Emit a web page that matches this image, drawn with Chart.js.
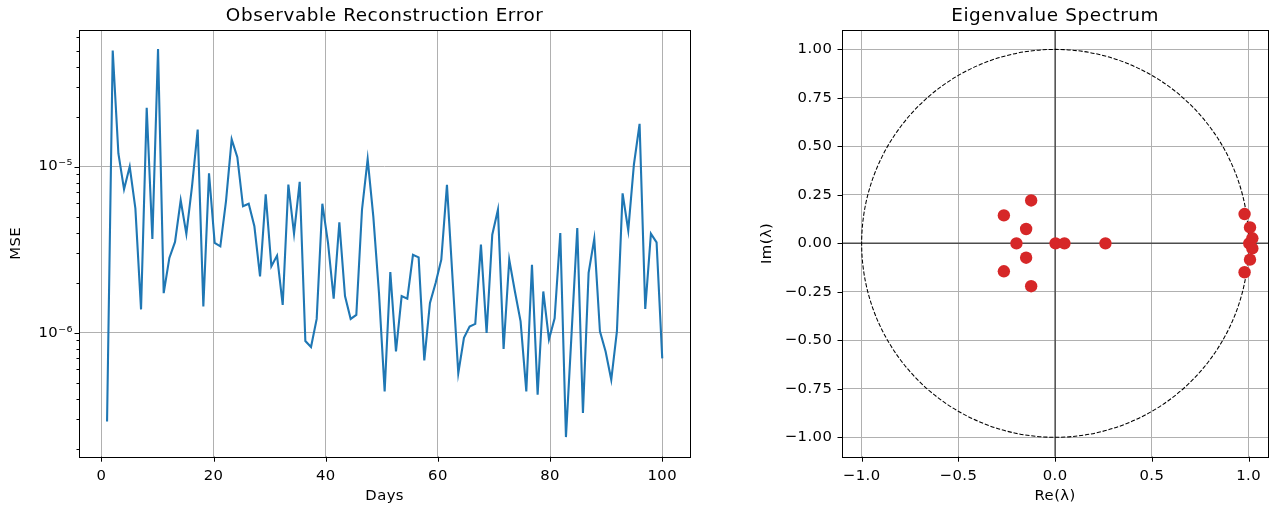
<!DOCTYPE html>
<html>
<head>
<meta charset="utf-8">
<script src="https://cdn.jsdelivr.net/npm/chart.js@4.4.0/dist/chart.umd.min.js"></script>
<style>
  body { margin: 0; background: #fff; width: 1276px; height: 510px; overflow: hidden; position: relative; }
  canvas { position: absolute; top: 0; }
  #errChart { left: 0; }
  #eigChart { left: 750px; }
</style>
</head>
<body>
<canvas id="errChart" width="700" height="510"></canvas>
<canvas id="eigChart" width="526" height="510"></canvas>
<script>
// Left panel: reconstruction error per day
const days = [
  1.00, 2.01, 3.02, 4.03, 5.04, 6.05, 7.06, 8.07, 9.08, 10.09,
  11.10, 12.11, 13.12, 14.13, 15.14, 16.15, 17.16, 18.17, 19.18, 20.19,
  21.20, 22.21, 23.22, 24.23, 25.24, 26.26, 27.27, 28.28, 29.29, 30.30,
  31.31, 32.32, 33.33, 34.34, 35.35, 36.36, 37.37, 38.38, 39.39, 40.40,
  41.41, 42.42, 43.43, 44.44, 45.45, 46.46, 47.47, 48.48, 49.49, 50.50,
  51.51, 52.52, 53.53, 54.54, 55.55, 56.56, 57.57, 58.58, 59.59, 60.60,
  61.61, 62.62, 63.63, 64.64, 65.65, 66.66, 67.67, 68.68, 69.69, 70.70,
  71.71, 72.72, 73.73, 74.74, 75.76, 76.77, 77.78, 78.79, 79.80, 80.81,
  81.82, 82.83, 83.84, 84.85, 85.86, 86.87, 87.88, 88.89, 89.90, 90.91,
  91.92, 92.93, 93.94, 94.95, 95.96, 96.97, 97.98, 98.99, 100.00
];
const mseValues = [
  2.92e-7, 5.0e-5, 1.2e-5, 7.3e-6, 1.0e-5, 5.6e-6, 1.38e-6, 2.26e-5, 3.67e-6, 5.1e-5,
  1.73e-6, 2.82e-6, 3.52e-6, 6.27e-6, 3.93e-6, 7.6e-6, 1.67e-5, 1.44e-6, 9.1e-6, 3.47e-6,
  3.31e-6, 6.2e-6, 1.46e-5, 1.14e-5, 5.77e-6, 5.98e-6, 4.37e-6, 2.18e-6, 6.8e-6, 2.51e-6,
  2.91e-6, 1.47e-6, 7.8e-6, 3.95e-6, 8.1e-6, 8.9e-7, 8.2e-7, 1.21e-6, 5.98e-6, 3.47e-6,
  1.6e-6, 4.62e-6, 1.66e-6, 1.21e-6, 1.28e-6, 5.5e-6, 1.11e-5, 5.0e-6, 1.73e-6, 4.43e-7,
  2.32e-6, 7.7e-7, 1.66e-6, 1.6e-6, 2.94e-6, 2.84e-6, 6.8e-7, 1.51e-6, 1.99e-6, 2.75e-6,
  7.76e-6, 2.09e-6, 5.7e-7, 9.3e-7, 1.09e-6, 1.13e-6, 3.39e-6, 9.95e-7, 3.89e-6, 5.5e-6,
  7.98e-7, 2.75e-6, 1.77e-6, 1.17e-6, 4.43e-7, 2.56e-6, 4.23e-7, 1.77e-6, 9.1e-7, 1.22e-6,
  3.98e-6, 2.35e-7, 1.0e-6, 4.27e-6, 3.28e-7, 2.29e-6, 3.67e-6, 1.02e-6, 7.7e-7, 5.2e-7,
  1.02e-6, 6.9e-6, 4.13e-6, 1.03e-5, 1.81e-5, 1.39e-6, 3.95e-6, 3.5e-6, 7.0e-7
];
const dayTicks = [0, 20, 40, 60, 80, 100];
const mseMajorTicks = [1e-6, 1e-5];
const mseMinorTicks = [
  2e-7, 3e-7, 4e-7, 5e-7, 6e-7, 7e-7, 8e-7, 9e-7,
  2e-6, 3e-6, 4e-6, 5e-6, 6e-6, 7e-6, 8e-6, 9e-6,
  2e-5, 3e-5, 4e-5, 5e-5, 6e-5
];
const mseTickLabels = ['10\u207B\u2076', '10\u207B\u2075'];

// Right panel: eigenvalues
const eigRe = [-0.124, -0.265, -0.150, -0.200, -0.150, -0.265, -0.124, 0.002, 0.048, 0.260,
               0.979, 1.007, 1.019, 1.003, 1.019, 1.007, 0.979];
const eigIm = [0.221, 0.144, 0.074, 0.000, -0.074, -0.144, -0.221, 0.000, 0.000, 0.000,
               0.151, 0.082, 0.026, 0.000, -0.026, -0.084, -0.149];
const reTicks = [-1.0, -0.5, 0.0, 0.5, 1.0];
const imTicks = [-1.0, -0.75, -0.5, -0.25, 0.0, 0.25, 0.5, 0.75, 1.0];

Chart.defaults.font.family = '"DejaVu Sans", sans-serif';
Chart.defaults.font.size = 14.8;
Chart.defaults.color = '#000';

const GRID = '#b0b0b0';
const isMajor = v => mseMajorTicks.some(m => Math.abs(m - v) / m < 1e-6);
const fmtMinus = (v, d) => (v < 0 ? '\u2212' : '') + Math.abs(v).toFixed(d);

// matplotlib text is a little wider than canvas text
const spacing = {
  id: 'spacing',
  beforeUpdate(chart) { chart.ctx.letterSpacing = '0.45px'; },
  beforeLayout(chart) { chart.ctx.letterSpacing = '0.45px'; },
  beforeDraw(chart) { chart.ctx.letterSpacing = '0.45px'; }
};

// title, spines and outward tick marks
const frame = {
  id: 'frame',
  afterDraw(chart, args, opts) {
    const { ctx, chartArea: a } = chart;
    ctx.save();
    ctx.strokeStyle = '#000';
    ctx.lineWidth = 1;
    ctx.beginPath();
    const xs = chart.scales.x, ys = chart.scales.y;
    xs.ticks.forEach(t => {
      const px = Math.round(xs.getPixelForValue(t.value)) + 0.5;
      ctx.moveTo(px, a.bottom);
      ctx.lineTo(px, a.bottom + 5);
    });
    ys.ticks.forEach(t => {
      const py = Math.round(ys.getPixelForValue(t.value)) + 0.5;
      const len = opts.minorY && !isMajor(t.value) ? 2.8 : 4.8;
      ctx.moveTo(a.left, py);
      ctx.lineTo(a.left - len, py);
    });
    ctx.stroke();
    ctx.strokeRect(Math.round(a.left) + 0.5, Math.round(a.top) + 0.5,
                   Math.round(a.right - a.left), Math.round(a.bottom - a.top));
    ctx.fillStyle = '#000';
    ctx.font = '18.4px "DejaVu Sans"';
    ctx.letterSpacing = '0.6px';
    ctx.textAlign = 'center';
    ctx.textBaseline = 'alphabetic';
    ctx.fillText(opts.title, (a.left + a.right) / 2, 20.8);
    ctx.restore();
  }
};

// unit circle and zero axes under the eigenvalue points
const unitCircle = {
  id: 'unitCircle',
  beforeDatasetsDraw(chart) {
    const { ctx, chartArea: a } = chart;
    const xs = chart.scales.x, ys = chart.scales.y;
    const cx = xs.getPixelForValue(0), cy = ys.getPixelForValue(0);
    ctx.save();
    ctx.beginPath();
    ctx.rect(a.left, a.top, a.right - a.left, a.bottom - a.top);
    ctx.clip();
    ctx.strokeStyle = '#4d4d4d';
    ctx.lineWidth = 1.5;
    ctx.beginPath();
    ctx.moveTo(a.left, cy); ctx.lineTo(a.right, cy);
    ctx.moveTo(cx, a.top); ctx.lineTo(cx, a.bottom);
    ctx.stroke();
    ctx.strokeStyle = '#000';
    ctx.lineWidth = 1.05;
    ctx.setLineDash([4.2, 1.8]);
    ctx.beginPath();
    ctx.ellipse(cx, cy, xs.getPixelForValue(1) - cx, cy - ys.getPixelForValue(1), 0, 0, Math.PI * 2);
    ctx.stroke();
    ctx.restore();
  }
};

new Chart(document.getElementById('errChart'), {
  type: 'line',
  data: {
    datasets: [{
      data: days.map((d, i) => ({ x: d, y: mseValues[i] })),
      borderColor: '#1f77b4',
      borderWidth: 2.1,
      pointRadius: 0,
      tension: 0,
      fill: false
    }]
  },
  options: {
    responsive: false,
    animation: false,
    layout: { padding: { top: 30, right: 10, left: 0, bottom: 0 } },
    plugins: {
      legend: { display: false },
      tooltip: { enabled: false },
      frame: { title: 'Observable Reconstruction Error', minorY: true }
    },
    scales: {
      x: {
        type: 'linear',
        min: -3.95,
        max: 104.95,
        afterBuildTicks: s => { s.ticks = dayTicks.map(v => ({ value: v })); },
        afterFit: s => { s.height = 53.3; },
        ticks: { padding: 10.5, autoSkip: false, maxRotation: 0, callback: v => String(v) },
        grid: { color: GRID, lineWidth: 1, drawTicks: false },
        border: { display: false },
        title: { display: true, text: 'Days', padding: { top: 0, bottom: 4.8 } }
      },
      y: {
        type: 'logarithmic',
        min: 1.79e-7,
        max: 6.65e-5,
        afterBuildTicks: s => {
          s.ticks = mseMinorTicks.concat(mseMajorTicks).sort((a, b) => a - b).map(v => ({ value: v }));
        },
        afterFit: s => { s.width = 79.3; },
        ticks: {
          padding: 6.5,
          autoSkip: false,
          callback: v => {
            const k = mseMajorTicks.findIndex(m => Math.abs(m - v) / m < 1e-6);
            return k >= 0 ? mseTickLabels[k] : '';
          }
        },
        grid: {
          lineWidth: 1,
          drawTicks: false,
          color: c => (c.tick && isMajor(c.tick.value)) ? GRID : 'rgba(0,0,0,0)'
        },
        border: { display: false },
        title: { display: true, text: 'MSE', padding: { top: 7, bottom: 0 } }
      }
    }
  },
  plugins: [spacing, frame]
});

new Chart(document.getElementById('eigChart'), {
  type: 'scatter',
  data: {
    datasets: [{
      data: eigRe.map((r, i) => ({ x: r, y: eigIm[i] })),
      backgroundColor: '#d62728',
      borderWidth: 0,
      pointRadius: 6.2,
      pointHoverRadius: 6.2
    }]
  },
  options: {
    responsive: false,
    animation: false,
    layout: { padding: { top: 30, right: 8, left: 0, bottom: 0 } },
    plugins: {
      legend: { display: false },
      tooltip: { enabled: false },
      frame: { title: 'Eigenvalue Spectrum', minorY: false }
    },
    scales: {
      x: {
        type: 'linear',
        min: -1.1,
        max: 1.1,
        afterBuildTicks: s => { s.ticks = reTicks.map(v => ({ value: v })); },
        afterFit: s => { s.height = 53.3; },
        ticks: { padding: 10.5, autoSkip: false, maxRotation: 0, callback: v => fmtMinus(v, 1) },
        grid: { color: GRID, lineWidth: 1, drawTicks: false },
        border: { display: false },
        title: { display: true, text: 'Re(\u03BB)', padding: { top: 0, bottom: 4.8 } }
      },
      y: {
        type: 'linear',
        min: -1.1,
        max: 1.1,
        afterBuildTicks: s => { s.ticks = imTicks.map(v => ({ value: v })); },
        afterFit: s => { s.width = 92.3; },
        ticks: { padding: 10, autoSkip: false, callback: v => fmtMinus(v, 2) },
        grid: { color: GRID, lineWidth: 1, drawTicks: false },
        border: { display: false },
        title: { display: true, text: 'Im(\u03BB)', padding: { top: 8.6, bottom: 0 } }
      }
    }
  },
  plugins: [spacing, frame, unitCircle]
});
</script>
</body>
</html>
